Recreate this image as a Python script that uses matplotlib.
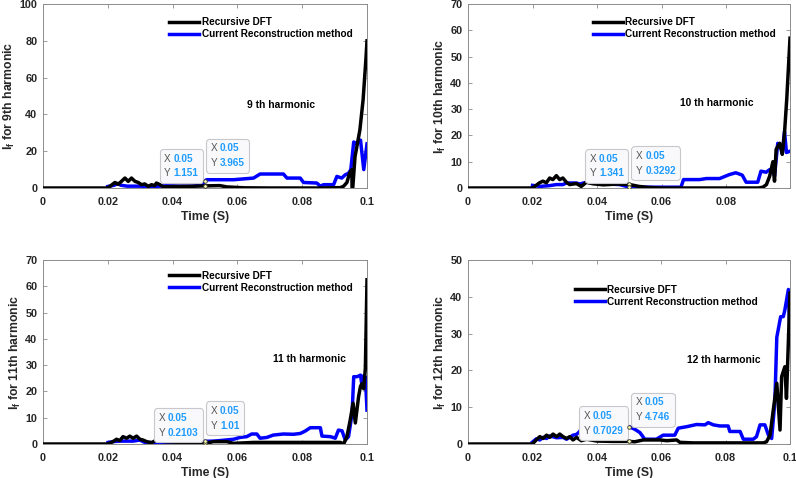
import matplotlib
matplotlib.use("Agg")
import matplotlib.pyplot as plt
from matplotlib.offsetbox import TextArea, HPacker, VPacker, AnnotationBbox

plt.rcParams["font.family"] = ["Liberation Sans", "DejaVu Sans"]
plt.rcParams["font.weight"] = "bold"
plt.rcParams["mathtext.fontset"] = "custom"
plt.rcParams["mathtext.bf"] = "Liberation Sans:bold"
plt.rcParams["mathtext.default"] = "bf"

# ---- data (time in s, current in A) ----
HARMONICS = [9, 10, 11, 12]
TIME_MAX = [0.1, 0.0998, 0.1, 0.1]
Y_MAX = [100, 70, 70, 50]
Y_STEP = [20, 10, 10, 10]
LEGEND_LABELS = ["Recursive DFT", "Current Reconstruction method"]

DFT_9 = [(0.0, 0.0), (0.020, 0.0), (0.0222, 3.0), (0.0232, 2.0), (0.0242, 3.6), (0.0253, 5.4),
         (0.0263, 3.6), (0.0273, 5.4), (0.0284, 3.6), (0.0294, 3.0), (0.0304, 1.8), (0.0314, 2.2),
         (0.0325, 0.9), (0.0335, 1.8), (0.0345, 1.3), (0.0350, 2.7), (0.0361, 1.8), (0.0371, 0.6),
         (0.040, 0.8), (0.045, 0.9), (0.050, 1.151), (0.0546, 1.3), (0.0567, 0.6), (0.0588, 0.4),
         (0.062, 0.1), (0.070, 0.0), (0.085, 0.0), (0.0918, 0.2), (0.0928, 1.0), (0.0938, 3.0),
         (0.0946, 8.0), (0.0953, 10.0), (0.0954, 0.0), (0.0956, 0.0), (0.0963, 17.0), (0.0978, 31.5),
         (0.0988, 48.0), (0.0997, 71.0), (0.1000, 80.0)]
CR_9 = [(0.0200, 0.8), (0.0220, 1.5), (0.0230, 2.5), (0.0240, 1.5), (0.0260, 1.0), (0.0300, 1.0),
        (0.0340, 0.8), (0.0380, 1.2), (0.0420, 1.0), (0.0460, 1.0), (0.0490, 1.5), (0.0500, 3.965),
        (0.0505, 4.5), (0.0588, 4.5), (0.0650, 5.4), (0.0670, 7.6), (0.0742, 7.6), (0.0753, 5.4),
        (0.0794, 5.4), (0.0804, 3.0), (0.0845, 2.7), (0.0856, 1.0), (0.0866, 1.8), (0.0897, 1.8),
        (0.0907, 6.3), (0.0922, 5.4), (0.0933, 7.2), (0.0943, 8.0), (0.0950, 10.0), (0.0959, 25.0),
        (0.0969, 24.0), (0.0974, 25.0), (0.0980, 26.0), (0.0990, 10.0), (0.1000, 24.0)]

DFT_10 = [(0.0, 0.0), (0.020, 0.0), (0.0222, 2.0), (0.0232, 2.6), (0.0243, 2.0), (0.0253, 3.8),
          (0.0263, 3.2), (0.0274, 4.7), (0.0284, 3.2), (0.0294, 3.8), (0.0305, 2.2), (0.0315, 1.3),
          (0.0336, 1.7), (0.0351, 0.6), (0.0367, 2.2), (0.0387, 1.6), (0.042, 1.2), (0.046, 1.5),
          (0.050, 1.341), (0.053, 0.6), (0.056, 0.2), (0.060, 0.0), (0.090, 0.0), (0.0914, 0.3),
          (0.0925, 1.3), (0.0935, 4.5), (0.0945, 10.0), (0.0950, 2.6), (0.0955, 14.7), (0.0966, 17.0),
          (0.0974, 12.8), (0.0981, 21.0), (0.0988, 34.0), (0.0998, 57.0)]
CR_10 = [(0.0200, 1.0), (0.0222, 0.6), (0.0253, 0.9), (0.0274, 1.3), (0.0294, 1.3), (0.0305, 1.9),
         (0.0336, 1.9), (0.0346, 1.5), (0.0367, 2.2), (0.0387, 1.9), (0.0420, 1.6), (0.0470, 1.3),
         (0.0500, 0.3292), (0.0600, 0.3), (0.0660, 0.3), (0.0668, 3.2), (0.0718, 3.2), (0.0739, 3.6),
         (0.0780, 3.6), (0.0810, 5.1), (0.0830, 5.8), (0.0850, 4.9), (0.0862, 2.2), (0.0898, 2.2),
         (0.0908, 6.4), (0.0924, 6.0), (0.0935, 7.0), (0.0945, 7.0), (0.0950, 4.5), (0.0960, 17.0),
         (0.0970, 16.0), (0.0974, 13.0), (0.0981, 21.5), (0.0987, 13.5), (0.0998, 14.0)]

DFT_11 = [(0.0, 0.0), (0.020, 0.0), (0.0216, 0.9), (0.0227, 1.8), (0.0237, 1.3), (0.0247, 2.8),
          (0.0258, 2.2), (0.0268, 3.0), (0.0278, 2.2), (0.0289, 3.0), (0.0299, 1.8), (0.0309, 1.5),
          (0.0320, 0.9), (0.0335, 0.5), (0.0350, 1.5), (0.0371, 0.9), (0.0443, 0.5), (0.0500, 0.2103),
          (0.0526, 0.9), (0.0567, 0.9), (0.0588, 0.25), (0.0650, 0.6), (0.0918, 0.6), (0.0928, 0.0),
          (0.0938, 2.8), (0.0948, 9.0), (0.0957, 15.5), (0.0964, 8.0), (0.0974, 18.0), (0.0980, 22.0),
          (0.0985, 23.0), (0.0990, 21.0), (0.0995, 29.0), (0.1000, 62.5)]
CR_11 = [(0.0201, 0.6), (0.0216, 0.9), (0.0237, 1.1), (0.0278, 1.1), (0.0299, 1.5), (0.0314, 0.6),
         (0.0350, 0.5), (0.0400, 0.5), (0.0450, 0.6), (0.0500, 1.01), (0.0526, 1.1), (0.0546, 1.3),
         (0.0588, 1.8), (0.0608, 2.5), (0.0629, 2.8), (0.0644, 3.8), (0.0660, 3.8), (0.0670, 2.2),
         (0.0691, 2.5), (0.0711, 3.4), (0.0742, 3.8), (0.0773, 3.7), (0.0794, 4.0), (0.0809, 4.9),
         (0.0825, 6.2), (0.0856, 6.2), (0.0861, 3.0), (0.0887, 2.8), (0.0902, 2.2), (0.0912, 5.3),
         (0.0923, 5.0), (0.0933, 1.5), (0.0943, 2.8), (0.0954, 11.6), (0.0959, 25.6), (0.0969, 25.6),
         (0.0980, 26.2), (0.0985, 21.8), (0.0990, 26.0), (0.0995, 25.5), (0.1000, 12.9)]

DFT_12 = [(0.0, 0.0), (0.020, 0.0), (0.0212, 1.1), (0.0223, 2.0), (0.0233, 1.5), (0.0244, 2.4),
          (0.0254, 1.8), (0.0264, 2.7), (0.0275, 2.0), (0.0285, 2.7), (0.0295, 2.0), (0.0306, 1.5),
          (0.0316, 2.0), (0.0326, 1.1), (0.0337, 1.8), (0.0352, 0.9), (0.0368, 1.3), (0.0400, 0.8),
          (0.0450, 0.7), (0.0500, 0.7029), (0.0518, 0.6), (0.0544, 1.1), (0.0596, 1.1), (0.0617, 0.9),
          (0.0648, 1.1), (0.0658, 0.45), (0.0700, 0.3), (0.0917, 0.3), (0.0927, 0.6), (0.0938, 2.4),
          (0.0948, 9.2), (0.0959, 16.5), (0.0969, 3.8), (0.0974, 18.3), (0.0984, 21.0), (0.0989, 12.4),
          (0.0995, 28.0), (0.1000, 41.0)]
CR_12 = [(0.0200, 0.5), (0.0212, 1.4), (0.0223, 1.1), (0.0233, 1.8), (0.0244, 1.5), (0.0254, 2.2),
         (0.0275, 1.7), (0.0295, 1.8), (0.0306, 1.3), (0.0316, 1.8), (0.0326, 2.4), (0.0337, 2.6),
         (0.0347, 3.4), (0.0352, 4.3), (0.0400, 4.5), (0.0450, 4.4), (0.0500, 4.746), (0.0518, 4.0),
         (0.0534, 3.1), (0.0549, 1.3), (0.0585, 1.3), (0.0606, 2.4), (0.0642, 2.4), (0.0653, 4.3),
         (0.0679, 4.7), (0.0710, 5.3), (0.0736, 5.2), (0.0746, 5.8), (0.0762, 5.2), (0.0782, 4.9),
         (0.0808, 4.9), (0.0813, 3.4), (0.0845, 3.4), (0.0855, 1.3), (0.0886, 1.3), (0.0896, 2.0),
         (0.0907, 5.2), (0.0922, 5.2), (0.0933, 2.4), (0.0943, 1.5), (0.0953, 11.5), (0.0959, 29.0),
         (0.0971, 34.6), (0.0979, 34.6), (0.0984, 36.4), (0.0995, 42.0), (0.1000, 29.0)]

DFT = [DFT_9, DFT_10, DFT_11, DFT_12]
CR = [CR_9, CR_10, CR_11, CR_12]
# data tips at t = 0.05: (value on DFT curve, value on CR curve)
TIP_TIME = 0.05
TIP_DFT = [1.151, 1.341, 0.2103, 0.7029]
TIP_CR = [3.965, 0.3292, 1.01, 4.746]

# ---- layout (pixels of a 796x478 canvas) ----
W, H = 796, 478
AX_PX = [(43, 4, 324, 184), (468, 4, 322, 184), (43, 260, 324, 184), (468, 260, 322, 184)]
LEG_ANCHOR = [(0.389, 0.929), (0.388, 0.929), (0.389, 0.942), (0.332, 0.866)]
NOTE_POS = [(0.063, 45), (0.0657, 32.3), (0.071, 32.3), (0.068, 22.8)]
# (dx, dy) pixel gap between the tip point and the tip frame
TIP_OFF_DFT = [(-2, 3), (-1, 1.5), (-2, 1.4), (-1, 1.4)]
TIP_OFF_CR = [(1, 8), (2, 7), (1, 6), (2, 0)]
TIP_PAD = 4.5  # px between frame and text

TIP_BLUE = "#1e9bff"
SPINE = "#8c8c8c"
TEXT = "#262626"


def datatip(ax, x, y, off, align):
    rows = []
    for key, val in (("X", f"{x:g}"), ("Y", f"{y:.4g}")):
        rows.append(HPacker(children=[
            TextArea(key, textprops=dict(color="#555555", size=7.2, weight="normal")),
            TextArea(val, textprops=dict(color=TIP_BLUE, size=7.2, weight="bold"))],
            pad=0, sep=2))
    box = VPacker(children=rows, pad=0, sep=3.5, align="left")
    sx = -1 if align[0] == 1 else 1
    dx = (off[0] + sx * TIP_PAD) * 0.72
    dy = (off[1] + TIP_PAD) * 0.72
    ab = AnnotationBbox(box, (x, y), xybox=(dx, dy), xycoords="data",
                        boxcoords="offset points", box_alignment=align, frameon=True,
                        bboxprops=dict(boxstyle=f"round,pad={TIP_PAD * 0.072:.3f},rounding_size=0.25",
                                       fc="#f9f9fb", ec="#c8c8cc", lw=0.8),
                        zorder=6)
    ax.add_artist(ab)
    ax.plot([x], [y], "o", ms=2.6, mfc="#ffffb0", mec="#333333", mew=0.6, zorder=7)


fig = plt.figure(figsize=(W / 100, H / 100), dpi=100)

for i, h in enumerate(HARMONICS):
    l, t, w, hh = AX_PX[i]
    ax = fig.add_axes([l / W, 1 - (t + hh) / H, w / W, hh / H])

    td, vd = zip(*DFT[i])
    tc, vc = zip(*CR[i])
    ln_d, = ax.plot(td, vd, color="black", lw=2.5, zorder=3, label=LEGEND_LABELS[0])
    ln_c, = ax.plot(tc, vc, color="blue", lw=2.5, zorder=2, label=LEGEND_LABELS[1])

    ax.set_xlim(0, TIME_MAX[i])
    ax.set_ylim(0, Y_MAX[i])
    xt = [0, 0.02, 0.04, 0.06, 0.08, 0.1] if TIME_MAX[i] >= 0.1 else [0, 0.02, 0.04, 0.06, 0.08]
    ax.set_xticks(xt)
    ax.set_xticklabels([f"{v:g}" for v in xt])
    ax.set_yticks(range(0, Y_MAX[i] + 1, Y_STEP[i]))

    for s in ax.spines.values():
        s.set_color(SPINE)
        s.set_linewidth(0.7)
    ax.tick_params(direction="in", length=3, width=0.6, color=SPINE, top=True, right=True,
                   labelsize=7.8, labelcolor=TEXT)
    ax.tick_params(axis="x", pad=6.5)
    ax.tick_params(axis="y", pad=4)
    for lab in ax.get_xticklabels() + ax.get_yticklabels():
        lab.set_fontweight("bold")

    ax.set_xlabel("Time (S)", fontsize=8.8, fontweight="bold", color=TEXT, labelpad=3)
    ax.set_ylabel(f"I$_f$ for {h}th harmonic", fontsize=8.8, fontweight="bold", color=TEXT, labelpad=2)

    ax.legend(handles=[ln_d, ln_c], loc="upper left", bbox_to_anchor=LEG_ANCHOR[i], frameon=False,
              prop=dict(size=7.2, weight="bold"), handlelength=3.0, handletextpad=0.25,
              labelspacing=0.2, borderpad=0, borderaxespad=0)

    ax.text(NOTE_POS[i][0], NOTE_POS[i][1], f"{h} th harmonic", fontsize=7.4, fontweight="bold",
            color="black", ha="left", va="center")

    datatip(ax, TIP_TIME, TIP_DFT[i], TIP_OFF_DFT[i], (1, 0))
    datatip(ax, TIP_TIME, TIP_CR[i], TIP_OFF_CR[i], (0, 0))

fig.savefig("out.png", dpi=100)
